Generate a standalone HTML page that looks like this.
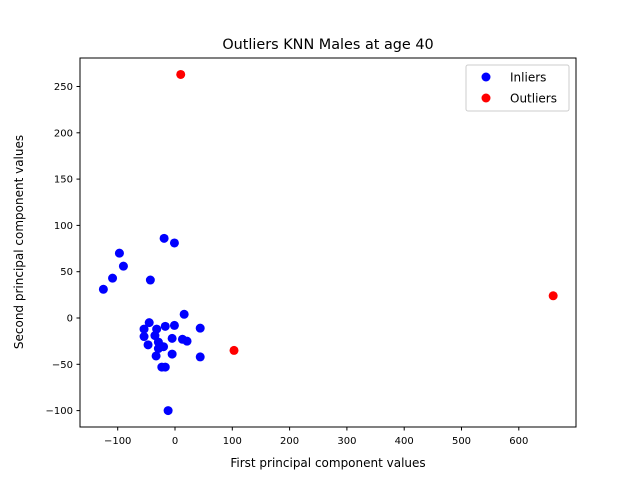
<!DOCTYPE html>
<html><head><meta charset="utf-8"><style>
body{margin:0;background:#fff;font-family:"Liberation Sans","DejaVu Sans",sans-serif;}
svg text{font-family:"DejaVu Sans","Liberation Sans",sans-serif;fill:#000;}
</style></head><body>
<svg id="chart" width="640" height="480" viewBox="0 0 640 480" xmlns="http://www.w3.org/2000/svg">
<rect width="640" height="480" fill="#fff"/>
<text x="328" y="49" font-size="14.4" text-anchor="middle">Outliers KNN Males at age 40</text>
<g id="marks"></g>
<rect x="80" y="58" width="496" height="369" fill="none" stroke="#000" stroke-width="1"/>
<g id="xticks"></g><g id="yticks"></g>
<text x="328" y="467" font-size="12" text-anchor="middle">First principal component values</text>
<text transform="translate(23,242) rotate(-90)" font-size="12" text-anchor="middle">Second principal component values</text>
<g>
<rect x="466" y="65" width="103" height="46" rx="2" fill="#fff" stroke="#ccc"/>
<circle cx="486" cy="77" r="4.5" fill="#0000ff"/>
<text x="510" y="81.5" font-size="12">Inliers</text>
<circle cx="486" cy="98" r="4.5" fill="#ff0000"/>
<text x="510" y="102.5" font-size="12">Outliers</text>
</g>
</svg>
<script>
const inlierX=[-19,-1,-97,-90,-109,-125,-43,16,-45,-54,-32,-17,-1,44,-54,-35,-5,13,21,-47,-29,-29,-20,-33,-5,44,-23,-17,-12];
const inlierY=[86,81,70,56,43,31,41,4,-5,-12,-12,-9,-8,-11,-20,-19,-22,-23,-25,-29,-26,-33,-31,-41,-39,-42,-53,-53,-100];
const outlierX=[10,660,103];
const outlierY=[263,24,-35];
const xTicks=[-100,0,100,200,300,400,500,600];
const yTicks=[-100,-50,0,50,100,150,200,250];
const NS="http://www.w3.org/2000/svg";
function sx(v){return 175+v*0.573;}
function sy(v){return 318-v*0.926;}
const marks=document.getElementById('marks');
function pt(x,y,c,name){const e=document.createElementNS(NS,'circle');e.setAttribute('cx',sx(x));e.setAttribute('cy',sy(y));e.setAttribute('r',4.5);e.setAttribute('fill',c);


marks.appendChild(e);}
inlierX.forEach((x,i)=>pt(x,inlierY[i],'#0000ff','inlier-point'));
outlierX.forEach((x,i)=>pt(x,outlierY[i],'#ff0000','outlier-point'));
const xg=document.getElementById('xticks');
xTicks.forEach(t=>{const x=sx(t);
const l=document.createElementNS(NS,'line');l.setAttribute('x1',x);l.setAttribute('x2',x);l.setAttribute('y1',427);l.setAttribute('y2',430.5);l.setAttribute('stroke','#000');


xg.appendChild(l);
const tx=document.createElementNS(NS,'text');tx.setAttribute('x',x);tx.setAttribute('y',444);tx.setAttribute('font-size','10');tx.setAttribute('text-anchor','middle');tx.textContent=t<0?'\u2212'+(-t):t;


xg.appendChild(tx);});
const yg=document.getElementById('yticks');
yTicks.forEach(t=>{const y=sy(t);
const l=document.createElementNS(NS,'line');l.setAttribute('x1',76.5);l.setAttribute('x2',80);l.setAttribute('y1',y);l.setAttribute('y2',y);l.setAttribute('stroke','#000');


yg.appendChild(l);
const tx=document.createElementNS(NS,'text');tx.setAttribute('x',73);tx.setAttribute('y',y+3.5);tx.setAttribute('font-size','10');tx.setAttribute('text-anchor','end');tx.textContent=t<0?'\u2212'+(-t):t;


yg.appendChild(tx);});
</script>
</body></html>
